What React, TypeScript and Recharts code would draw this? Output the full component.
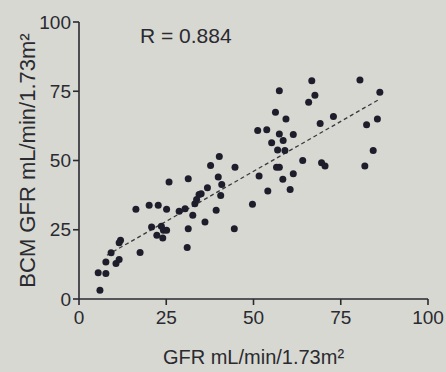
import {
  ScatterChart,
  Scatter,
  XAxis,
  YAxis,
  ReferenceLine,
  Label,
} from "recharts";

// GFR (x) vs BCM GFR (y)
const gfr = [
  6.0, 5.5, 7.7, 7.7, 9.2, 10.6, 11.5, 11.9, 11.5, 17.5,
  16.3, 20.1, 20.8, 22.7, 25.1, 22.3, 24.0, 24.2, 25.1, 23.6,
  25.8, 28.7, 30.4, 31.3, 31.3, 31.0, 32.6, 33.2, 33.7, 34.4,
  35.0, 36.1, 36.8, 37.7, 39.3, 39.9, 40.2, 40.9, 40.6, 44.7,
  44.5, 49.7, 51.2, 51.6, 53.8, 54.1, 55.2, 56.3, 57.4, 57.4,
  56.9, 57.4, 56.6, 58.5, 58.4, 59.3, 59.0, 60.5, 61.4, 61.4,
  64.1, 65.8, 66.7, 67.6, 69.1, 69.5, 70.5, 72.9, 80.5, 81.9,
  82.4, 84.3, 85.5, 86.2,
];
const bcmGfr = [
  3.2, 9.5, 9.2, 13.4, 16.7, 12.8, 14.3, 21.2, 20.3, 16.8,
  32.4, 33.8, 26.0, 33.8, 32.4, 23.0, 22.0, 24.8, 24.8, 26.3,
  42.2, 31.7, 32.6, 43.4, 25.4, 18.6, 30.2, 34.4, 35.9, 37.7,
  38.0, 27.8, 40.2, 48.2, 32.0, 44.0, 51.4, 41.3, 37.4, 47.6,
  25.4, 34.2, 60.8, 44.4, 61.1, 39.0, 56.4, 67.4, 75.2, 59.6,
  53.8, 47.6, 47.6, 57.2, 43.2, 65.0, 53.6, 39.5, 45.2, 59.4,
  50.0, 71.0, 78.8, 73.6, 63.4, 49.2, 48.0, 65.9, 79.1, 48.0,
  62.9, 53.6, 65.0, 74.6,
];

// fitted line end points as drawn
const fitX = [8, 86.2];
const fitY = [15.8, 72.2];

const ticks = [0, 25, 50, 75, 100];

const points = gfr.map((x, i) => ({ x, y: bcmGfr[i] }));

const INK = "#2a2a30";
const FONT = "'Liberation Sans', Arial, sans-serif";

const Dot = (props: any) => (
  <circle cx={props.cx} cy={props.cy} r={3.5} fill="#1e1d2b" />
);

export default function App() {
  return (
    <div
      style={{
        position: "absolute",
        left: 0,
        top: 0,
        width: 446,
        height: 372,
        background: "#d7d8d1",
        fontFamily: FONT,
      }}
    >
      <ScatterChart
        width={446}
        height={372}
        margin={{ top: 22, right: 18, bottom: 6, left: 0 }}
      >
        <XAxis
          type="number"
          dataKey="x"
          domain={[0, 100]}
          ticks={ticks}
          height={67}
          axisLine={{ stroke: INK, strokeWidth: 1.6 }}
          tickLine={{ stroke: INK, strokeWidth: 1.6 }}
          tickSize={6}
          tickMargin={6}
          tick={{ fill: INK, fontSize: 19, fontFamily: FONT }}
        >
          <Label
            value="GFR mL/min/1.73m²"
            position="insideBottom"
            offset={2}
            style={{ fill: INK, fontSize: 20, fontFamily: FONT }}
          />
        </XAxis>
        <YAxis
          type="number"
          dataKey="y"
          domain={[0, 100]}
          ticks={ticks}
          width={79}
          axisLine={{ stroke: INK, strokeWidth: 1.6 }}
          tickLine={{ stroke: INK, strokeWidth: 1.6 }}
          tickSize={6}
          tick={{ fill: INK, fontSize: 19, fontFamily: FONT }}
        >
          <Label
            value="BCM GFR mL/min/1.73m²"
            angle={-90}
            position="insideLeft"
            offset={27}
            style={{ fill: INK, fontSize: 22, fontFamily: FONT, textAnchor: "middle" }}
          />
        </YAxis>
        <ReferenceLine
          segment={[
            { x: fitX[0], y: fitY[0] },
            { x: fitX[1], y: fitY[1] },
          ]}
          stroke="#3a3a40"
          strokeWidth={1.3}
          strokeDasharray="4 3"
        />
        <Scatter data={points} shape={<Dot />} isAnimationActive={false} />
      </ScatterChart>
      <div
        style={{
          position: "absolute",
          left: 140,
          top: 24,
          fontSize: 21,
          color: INK,
        }}
      >
        R = 0.884
      </div>
    </div>
  );
}
